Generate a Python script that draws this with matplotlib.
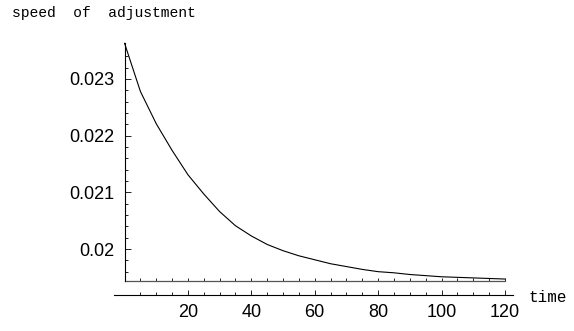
import numpy as np
import matplotlib.pyplot as plt
from matplotlib.ticker import MultipleLocator, NullFormatter

time = [0, 5, 10, 15, 20, 25, 30, 35, 40, 45, 50, 55, 60,
        65, 70, 75, 80, 85, 90, 95, 100, 105, 110, 115, 120]
speed = [0.02363, 0.02278, 0.02221, 0.02174, 0.02131, 0.02097, 0.02066,
         0.02041, 0.02023, 0.02008, 0.01997, 0.01988, 0.01981, 0.01974,
         0.01969, 0.01964, 0.01960, 0.01958, 0.01955, 0.01953, 0.01951,
         0.01950, 0.01949, 0.01948, 0.01947]

y_floor = 0.019435
y_yaxis_top = 0.02364
y_base = 0.019197
xlim = (-39.3, 141.8)
ylim = (0.018553, 0.024394)

tick_font = "Liberation Sans"
label_font = "Liberation Mono"

fig = plt.figure(figsize=(5.74, 3.31), dpi=100)
ax = fig.add_axes([0, 0, 1, 1])
ax.set_xlim(*xlim)
ax.set_ylim(*ylim)
ax.patch.set_visible(False)

ax.plot(time, speed, color="black", lw=0.8)

for side in ("top", "right"):
    ax.spines[side].set_visible(False)
ax.spines["left"].set_position(("data", 0))
ax.spines["left"].set_bounds(y_floor, y_yaxis_top)
ax.spines["bottom"].set_position(("data", y_base))
ax.spines["bottom"].set_bounds(-3.4, 122.5)
for side in ("left", "bottom"):
    ax.spines[side].set_linewidth(0.8)

ax.yaxis.set_major_locator(MultipleLocator(0.001))
ax.yaxis.set_minor_locator(MultipleLocator(0.0002))
ax.set_yticks([0.020, 0.021, 0.022, 0.023], ["0.02", "0.021", "0.022", "0.023"])
ax.set_yticks(np.arange(0.0196, 0.0236, 0.0002), minor=True)
ax.tick_params(axis="y", which="major", direction="in", length=4, width=0.6, pad=7,
               labelsize=13)
ax.tick_params(axis="y", which="minor", direction="in", length=2.2, width=0.6)

ax.set_xticks([20, 40, 60, 80, 100, 120])
ax.set_xticks(np.arange(5, 121, 5), minor=True)
ax.tick_params(axis="x", which="major", direction="in", length=3.5, width=0.6, pad=7,
               labelsize=13)
ax.tick_params(axis="x", which="minor", direction="in", length=2.2, width=0.6)
for lab in ax.get_xticklabels() + ax.get_yticklabels():
    lab.set_family(tick_font)

# second horizontal axis line sitting at the floor value
floor_loc = (y_floor - ylim[0]) / (ylim[1] - ylim[0])
sec = ax.secondary_xaxis(floor_loc)
sec.spines["bottom"].set_bounds(0, 120)
sec.spines["bottom"].set_linewidth(0.9)
sec.spines["bottom"].set_color("#555555")
sec.set_xticks(np.arange(5, 121, 5))
sec.xaxis.set_major_formatter(NullFormatter())
sec.tick_params(axis="x", direction="in", length=2, width=0.6)

fig.text(12 / 574, 1 - 13 / 331, "speed  of  adjustment", family=label_font,
         fontsize=10.5, va="center", ha="left")
fig.text(528 / 574, 1 - 297 / 331, "time", family=label_font,
         fontsize=11.5, va="center", ha="left")

fig.savefig("out.png", dpi=100)
